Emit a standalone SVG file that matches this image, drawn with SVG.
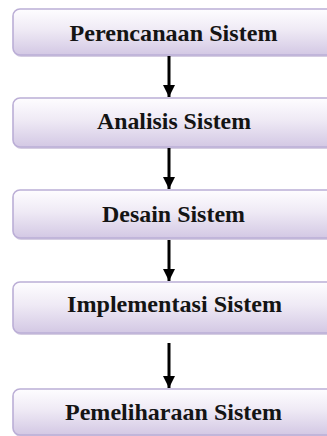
<svg xmlns="http://www.w3.org/2000/svg" width="327" height="436" viewBox="0 0 327 436">
<defs>
<linearGradient id="g" x1="0" y1="0" x2="0" y2="1">
<stop offset="0" stop-color="#fefdff"/>
<stop offset="0.45" stop-color="#efeaf5"/>
<stop offset="1" stop-color="#d3c8e4"/>
</linearGradient>
<marker id="ah" viewBox="0 0 12 12" refX="12" refY="6" markerWidth="12" markerHeight="12" markerUnits="userSpaceOnUse" orient="auto">
<path d="M0,0 L12,6 L0,12 Z" fill="#000"/>
</marker>
</defs>
<style>
.box{fill:url(#g);stroke:#bbaed6;stroke-width:1.6}
.sh{fill:#b9abcf;opacity:0.6}
.lbl{font-family:"Liberation Serif","Times New Roman",Times,serif;font-weight:bold;font-size:23px;fill:#141414;text-anchor:middle}
.arr{stroke:#000;stroke-width:3;fill:none}
</style>
<g id="n1">
<rect class="sh" x="14" y="11" width="330" height="46" rx="7"/>
<rect class="box" x="13" y="9" width="330" height="46" rx="7"/>
<text class="lbl" x="173.5" y="40.5" textLength="208" lengthAdjust="spacingAndGlyphs">Perencanaan Sistem</text>
</g>
<g id="n2">
<rect class="sh" x="14" y="100" width="330" height="49" rx="7"/>
<rect class="box" x="13" y="98" width="330" height="49" rx="7"/>
<text class="lbl" x="174" y="129" textLength="154" lengthAdjust="spacingAndGlyphs">Analisis Sistem</text>
</g>
<g id="n3">
<rect class="sh" x="14" y="192" width="330" height="48" rx="7"/>
<rect class="box" x="13" y="190" width="330" height="48" rx="7"/>
<text class="lbl" x="173.5" y="222" textLength="143" lengthAdjust="spacingAndGlyphs">Desain Sistem</text>
</g>
<g id="n4">
<rect class="sh" x="14" y="284" width="330" height="51" rx="7"/>
<rect class="box" x="13" y="282" width="330" height="51" rx="7"/>
<text class="lbl" x="174.5" y="312" textLength="215" lengthAdjust="spacingAndGlyphs">Implementasi Sistem</text>
</g>
<g id="n5">
<rect class="sh" x="14" y="391" width="330" height="46" rx="7"/>
<rect class="box" x="13" y="389" width="330" height="46" rx="7"/>
<text class="lbl" x="173.5" y="420" textLength="217" lengthAdjust="spacingAndGlyphs">Pemeliharaan Sistem</text>
</g>
<g id="connectors">
<line class="arr" x1="169" y1="56" x2="169" y2="97" marker-end="url(#ah)"/>
<line class="arr" x1="169" y1="148" x2="169" y2="189" marker-end="url(#ah)"/>
<line class="arr" x1="169" y1="240" x2="169" y2="281" marker-end="url(#ah)"/>
<line class="arr" x1="169" y1="343" x2="169" y2="388" marker-end="url(#ah)"/>
</g>
</svg>
